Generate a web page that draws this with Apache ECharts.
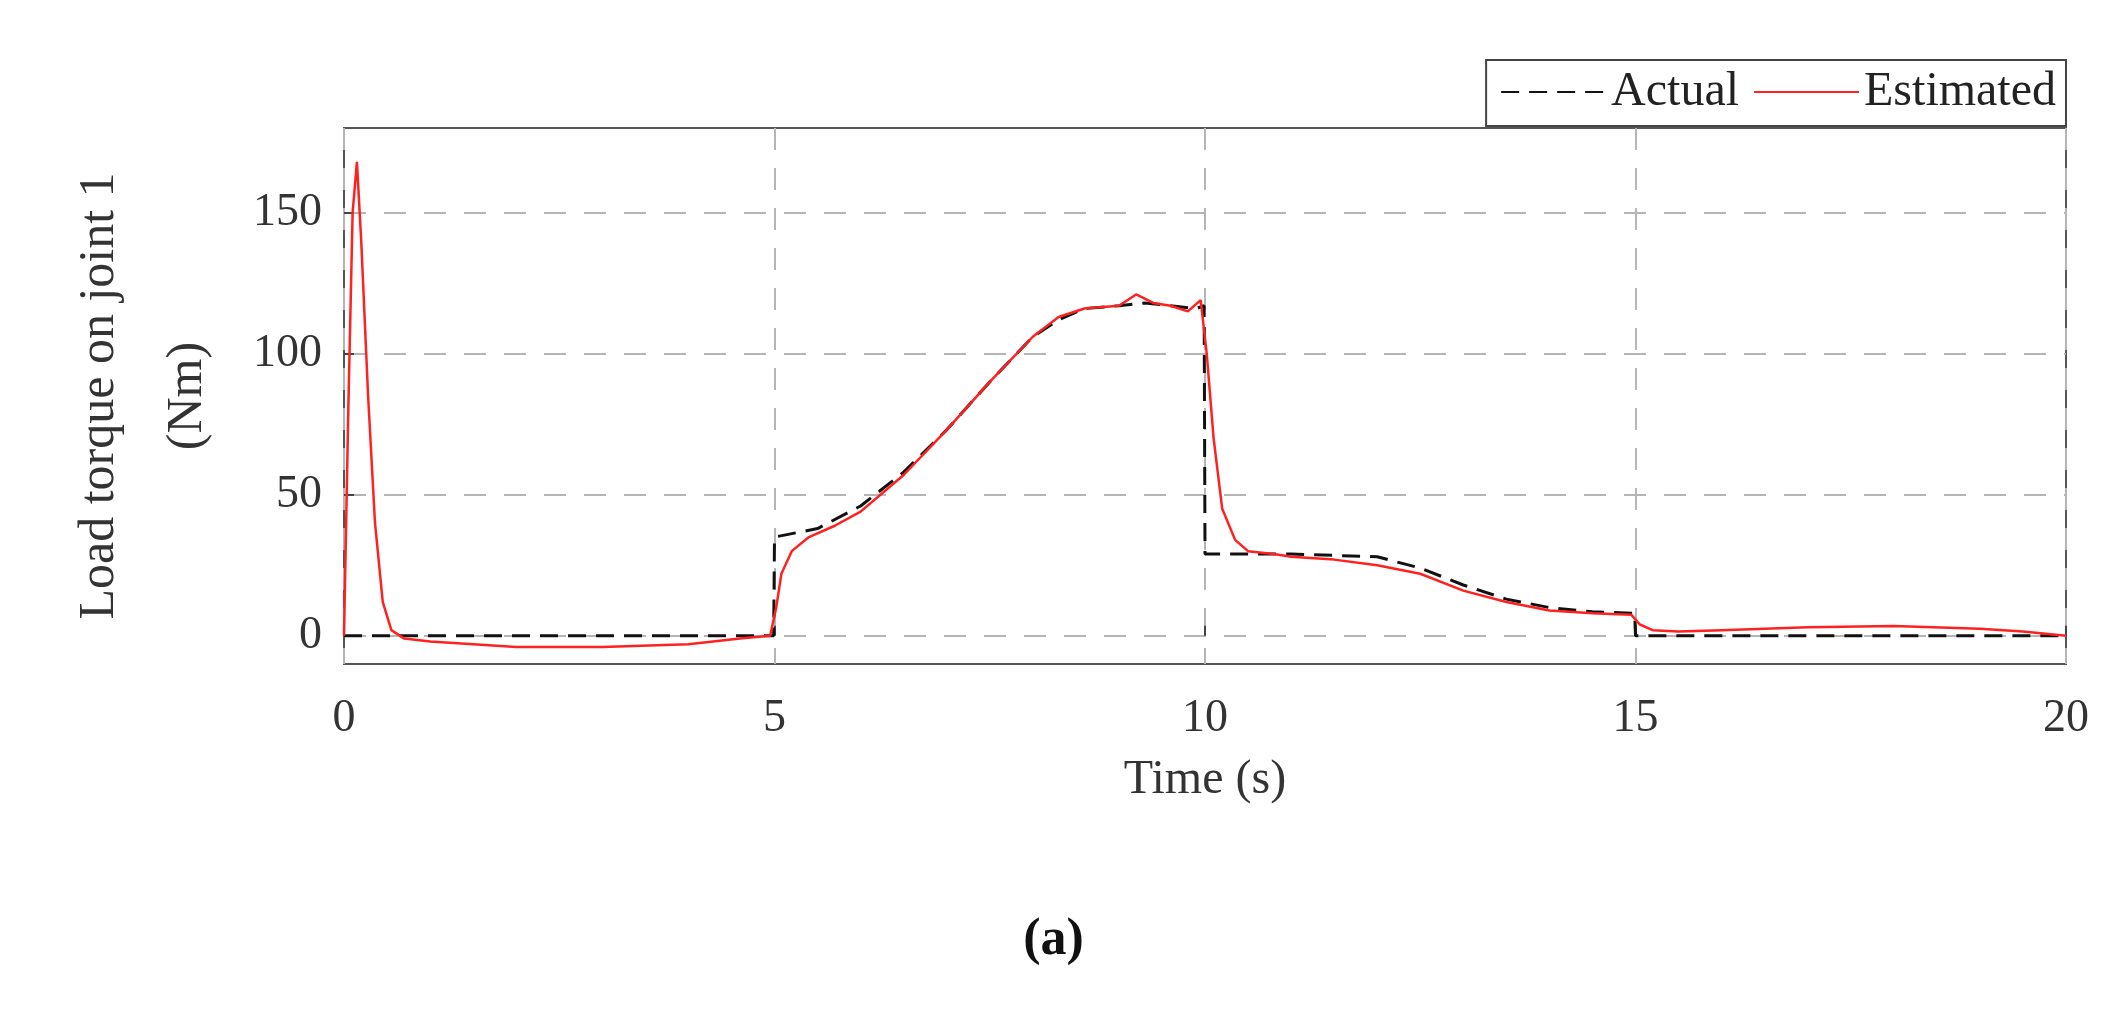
<!DOCTYPE html>
<html><head><meta charset="utf-8">
<script src="https://cdn.jsdelivr.net/npm/echarts@6/dist/echarts.min.js"></script>
<style>html,body{margin:0;padding:0;background:#fff}#c{width:2107px;height:1012px}</style>
</head><body><div id="c"></div>
<script>
const actualT = [0,4.99,5.0,5.5,6,6.5,7,7.5,8,8.3,8.6,9,9.3,9.6,9.9,9.99,10.0,11,12,12.5,13,13.5,14,14.5,14.99,15.0,20];
const actualV = [0,0,35,38,46,58,73,90,106,112,116,117,118,117,116,117,29,29,28,24,18,13,10,8.5,8,0,0];
const estT = [0,0.05,0.1,0.15,0.2,0.28,0.36,0.45,0.55,0.7,1,2,3,4,4.6,4.95,5.02,5.08,5.2,5.4,5.7,6,6.5,7,7.5,8,8.3,8.6,9,9.2,9.4,9.6,9.8,9.95,10.02,10.1,10.2,10.35,10.5,10.8,11,11.5,12,12.5,13,13.5,14,14.5,14.95,15.05,15.2,15.5,16,17,18,19,19.5,20];
const estV = [0,80,150,168,140,85,40,12,2,-1,-2,-4,-4,-3,-1,0,10,22,30,35,39,44,57,73,90,106,113,116,117,121,118,117,115,119,100,70,45,34,30,29,28,27,25,22,16,12,9,8,7.5,4,2,1.5,2,3,3.5,2.5,1.5,0];
const yTicks = [0,50,100,150];
const FONT = 'Liberation Serif';
const chart = echarts.init(document.getElementById('c'));
chart.setOption({
  animation:false,
  textStyle:{fontFamily:FONT},
  grid:{left:344,right:41,top:128,bottom:348,show:true,borderColor:'#555',borderWidth:2,containLabel:false},
  legend:{right:41,top:60,orient:'horizontal',borderColor:'#444',borderWidth:2,padding:[8,10,10,14],
    itemWidth:105,itemHeight:20,itemGap:14,backgroundColor:'#fff',
    itemStyle:{color:'transparent',borderWidth:0,opacity:0},
    textStyle:{fontFamily:FONT,fontSize:48,color:'#222'},
    data:['Actual','Estimated']},
  xAxis:{type:'value',min:0,max:20,interval:5,
    name:'Time (s)',nameLocation:'middle',nameGap:92,nameTextStyle:{fontSize:48,color:'#333',fontFamily:FONT},
    axisLine:{show:false},axisTick:{show:true,inside:true,length:10,lineStyle:{color:'#444',width:2}},
    axisLabel:{fontSize:46,color:'#333',margin:32,fontFamily:FONT},
    splitLine:{show:true,lineStyle:{color:'#b5b5b5',type:[22,18],width:2}}},
  yAxis:{type:'value',min:-10,max:180,
    name:'Load torque on joint 1\n(Nm)',nameLocation:'middle',nameGap:112,nameRotate:90,
    nameTextStyle:{fontSize:50,color:'#333',lineHeight:88,fontFamily:FONT},
    axisLine:{show:false},
    axisTick:{show:true,inside:true,length:10,customValues:yTicks,lineStyle:{color:'#444',width:2}},
    axisLabel:{fontSize:46,color:'#333',margin:22,customValues:yTicks,fontFamily:FONT},
    splitLine:{show:true,lineStyle:{color:'#b5b5b5',type:[22,18],width:2}}},
  graphic:[{type:'text',left:'center',top:915,style:{text:'(a)',font:'bold 52px "Liberation Serif"',fill:'#111'},z:10}],
  series:[
    {name:'Actual',type:'line',showSymbol:false,symbol:'none',data:actualT.map((t,i)=>[t,actualV[i]]),
     lineStyle:{color:'#111',width:3,type:[18,10]},itemStyle:{color:'#111'},z:2},
    {name:'Estimated',type:'line',showSymbol:false,symbol:'none',data:estT.map((t,i)=>[t,estV[i]]),
     lineStyle:{color:'#ff2020',width:2.5},itemStyle:{color:'#ff2020'},z:3}
  ]
});
</script></body></html>
